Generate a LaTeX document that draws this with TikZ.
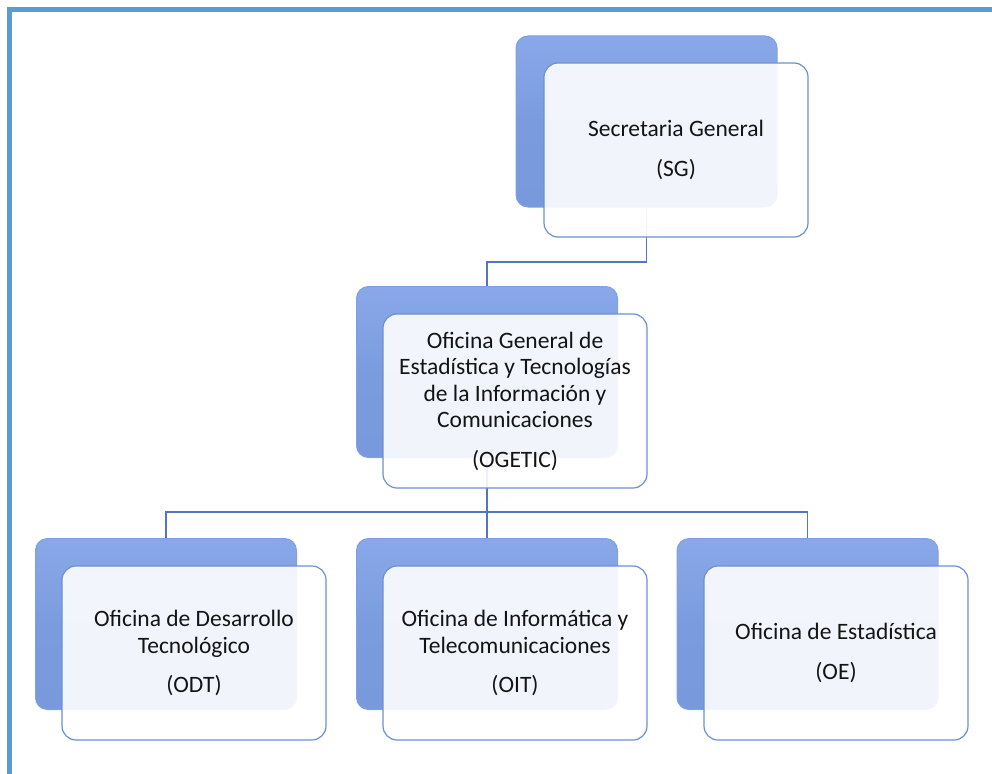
\documentclass[tikz,border=0pt]{standalone}
\usepackage{fontspec}
\setmainfont{Carlito}
\usetikzlibrary{calc}
\definecolor{framecol}{RGB}{91,155,213}
\definecolor{backtop}{RGB}{138,168,232}
\definecolor{backmid}{RGB}{122,156,222}
\definecolor{backbot}{RGB}{120,154,220}
\definecolor{backedge}{RGB}{128,160,228}
\definecolor{frontedge}{RGB}{108,143,214}
\definecolor{conncol}{RGB}{84,118,190}
\definecolor{txtcol}{RGB}{20,20,20}
\begin{document}
\begin{tikzpicture}[x=1pt,y=-1pt,
  backbox/.style={rectangle, rounded corners=12pt, minimum width=261pt, minimum height=171pt, inner sep=0pt,
    top color=backtop, bottom color=backbot, middle color=backmid, draw=backedge, line width=1pt},
  frontbox/.style={rectangle, rounded corners=14pt, minimum width=264pt, minimum height=174pt, inner sep=0pt,
    fill=white, fill opacity=0.9, text opacity=1, draw=frontedge, draw opacity=1, line width=1.2pt,
    align=center, text=txtcol, font=\fontsize{23.5pt}{26.5pt}\selectfont},
  conn/.style={draw=conncol, line width=1.3pt},
  frameline/.style={draw=framecol, line width=5pt}
]
\useasboundingbox (0,0) rectangle (992,773);
\draw[frameline] (9.5,780) -- (9.5,9.5) -- (1000,9.5);

% back boxes
\node[backbox] (sgb) at (646.5,121.5) {};
\node[backbox] (ogb) at (487,372) {};
\node[backbox] (odtb) at (166,624) {};
\node[backbox] (oitb) at (487,624) {};
\node[backbox] (oeb) at (807.5,624) {};

% connectors
\coordinate (j1) at (487,262);
\coordinate (j2) at (487,512);
\draw[conn] (sgb.south) |- (j1) -- (ogb.north);
\draw[conn] (ogb.south) -- (oitb.north);
\draw[conn] (odtb.north) |- (j2) -| (oeb.north);

% front boxes
\node[frontbox] (sgf) at (676,150) {Secretaria General\\[13pt](SG)};
\node[frontbox] (ogf) at (515,401) {Oficina General de\\Estadística y Tecnologías\\de la Información y\\Comunicaciones\\[13pt](OGETIC)};
\node[frontbox] (odtf) at (194,653) {Oficina de Desarrollo\\Tecnológico\\[13pt](ODT)};
\node[frontbox] (oitf) at (515,653) {Oficina de Informática y\\Telecomunicaciones\\[13pt](OIT)};
\node[frontbox] (oef) at (836,653) {Oficina de Estadística\\[13pt](OE)};
\end{tikzpicture}
\end{document}
